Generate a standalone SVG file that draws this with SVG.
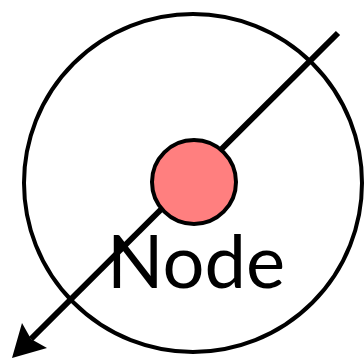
<svg xmlns="http://www.w3.org/2000/svg" width="364" height="359" viewBox="0 0 364 359">
<style>
.ring{fill:none;stroke:#000;stroke-width:4}
.node{fill:#ff7f7f;stroke:#000;stroke-width:4}
.edge{stroke:#000;stroke-width:6;fill:none}
.head{fill:#000;stroke:none}
.label{font-family:"Lato","Open Sans",sans-serif;font-size:74px;fill:#000}
</style>
<rect width="364" height="359" fill="#fff"/>
<g id="outer">
<circle class="ring" cx="193" cy="183" r="169"/>
</g>
<g id="connectors">
<line class="edge" x1="338" y1="33" x2="31" y2="339"/>
<path class="head" d="M12,358 L22,323 L31,339 L47,348 Z"/>
</g>
<g id="node">
<circle class="node" cx="194" cy="182" r="42"/>
<text class="label" x="196" y="288" text-anchor="middle" textLength="178" lengthAdjust="spacingAndGlyphs">Node</text>
</g>
</svg>
